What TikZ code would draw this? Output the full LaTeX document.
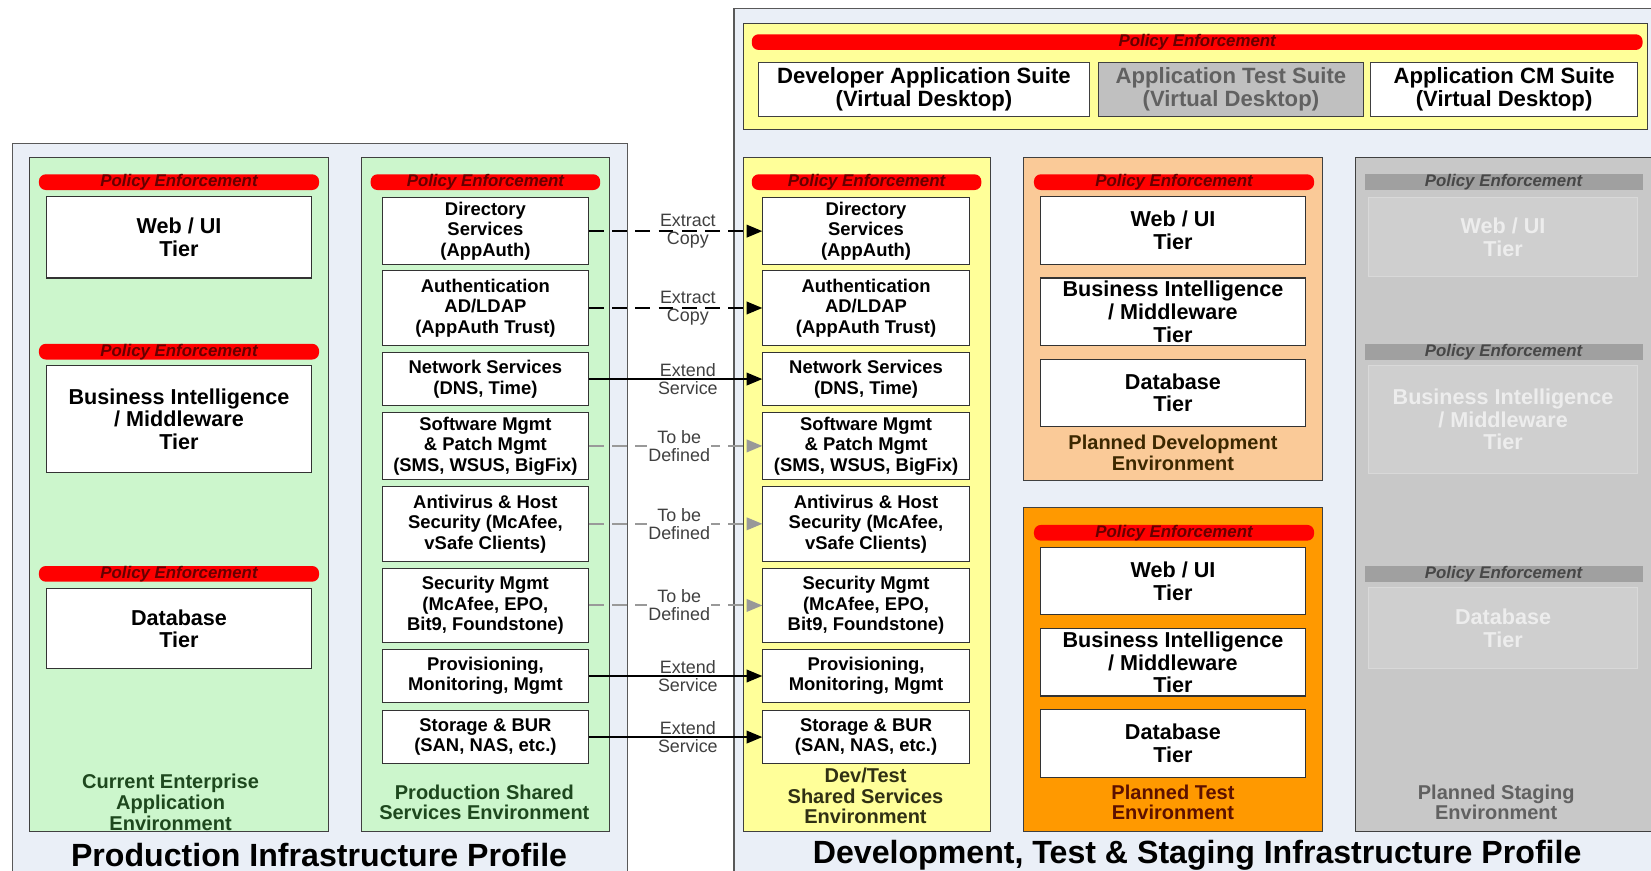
\documentclass[tikz,border=0pt]{standalone}
\usepackage{fontspec}
\setmainfont{Liberation Sans}
\usetikzlibrary{positioning,arrows.meta}

\definecolor{profilebg}{RGB}{234,239,247}
\definecolor{envgreen}{RGB}{204,246,204}
\definecolor{envyellow}{RGB}{255,255,153}
\definecolor{envpeach}{RGB}{250,202,152}
\definecolor{envorange}{RGB}{255,153,0}
\definecolor{envgrey}{RGB}{200,200,200}
\definecolor{fadegrey}{RGB}{207,207,207}
\definecolor{bargrey}{RGB}{160,160,160}
\definecolor{suitegrey}{RGB}{192,192,192}
\definecolor{greentext}{RGB}{30,72,30}
\definecolor{olivetext}{RGB}{48,48,20}
\definecolor{browntext}{RGB}{60,40,0}
\definecolor{rusttext}{RGB}{92,16,0}

\newcommand{\tierfont}{\fontsize{20.5}{21.5}\selectfont\bfseries}
\newcommand{\svcfont}{\fontsize{17.5}{19.5}\selectfont\bfseries}
\newcommand{\suitefont}{\fontsize{21}{22}\selectfont\bfseries}
\newcommand{\policyfont}{\fontsize{16}{16}\selectfont\bfseries\itshape}
\newcommand{\flowfont}{\fontsize{17}{17}\selectfont}
\newcommand{\envfont}{\fontsize{19}{19.5}\selectfont\bfseries}
\newcommand{\titlefont}{\fontsize{30.5}{32}\selectfont\bfseries}

\tikzset{
  profile/.style={draw=black!65, line width=1.2pt, fill=profilebg},
  envbox/.style={draw=black!75, line width=1pt},
  tierbox/.style={draw=black!80, line width=1pt, fill=white, align=center,
    inner sep=0pt, font=\tierfont, minimum width=252pt},
  svcbox/.style={draw=black!80, line width=1pt, fill=white, align=center,
    inner sep=0pt, font=\svcfont, minimum width=196pt},
  suitebox/.style={draw=black!75, line width=1pt, fill=white, align=center,
    inner sep=0pt, font=\suitefont, minimum height=52pt},
  fadebox/.style={draw=black!15, line width=1pt, fill=fadegrey, align=center,
    inner sep=0pt, font=\tierfont, text=white!93!black, minimum width=255pt},
  policybar/.style={fill=red, rounded corners=6.5pt, minimum height=13pt,
    inner sep=0pt, font=\policyfont, text=red!40!black},
  greybar/.style={fill=bargrey, minimum height=12pt, inner sep=0pt,
    font=\policyfont, text=black!72},
  envlabel/.style={font=\envfont, align=center},
  flowlabel/.style={font=\flowfont, align=center, text=black!75},
  extract/.style={draw, line width=1.8pt, dash pattern=on 14pt off 8pt,
    -{Triangle[length=15pt, width=12pt]}},
  extend/.style={draw, line width=1.8pt, -{Triangle[length=15pt, width=12pt]}},
  tbd/.style={draw=black!40, line width=1.8pt, dash pattern=on 14pt off 8pt,
    -{Triangle[length=15pt, width=12pt]}},
}

\begin{document}
\begin{tikzpicture}[x=1pt, y=-1pt]
  \clip (0,0) rectangle (1568,827);
  \fill[white] (0,0) rectangle (1568,827);

  %profiles
  \draw[profile] (12,136) rectangle (596,850);
  \draw[profile] (697,8) rectangle (1590,850);
  \node[font=\titlefont] (ptitle) at (303,812) {Production Infrastructure Profile};
  \node[font=\titlefont] (dtitle) at (1137,812) {Development, Test \& Staging Infrastructure Profile};

  %environments
  \draw[envbox, fill=envgreen] (28,150) rectangle (312,790);
  \draw[envbox, fill=envgreen] (343,150) rectangle (579,790);
  \draw[envbox, fill=envyellow] (706,22) rectangle (1565,123);
  \draw[envbox, fill=envyellow] (706,150) rectangle (941,790);
  \draw[envbox, fill=envpeach] (972,150) rectangle (1256,456);
  \draw[envbox, fill=envorange] (972,482) rectangle (1256,790);
  \draw[envbox, fill=envgrey] (1287,150) rectangle (1590,790);

  %virtual desktops
  \node[policybar, minimum width=846pt] (pedesk) at (1137,40) {Policy Enforcement};
  \node[suitebox, minimum width=315pt] (devsuite) at (877.5,85) {Developer Application Suite\\(Virtual Desktop)};
  \node[suitebox, minimum width=252pt, fill=suitegrey, text=black!62] (testsuite) at (1169,85) {Application Test Suite\\(Virtual Desktop)};
  \node[suitebox, minimum width=253pt] (cmsuite) at (1428.5,85) {Application CM Suite\\(Virtual Desktop)};

  %current enterprise
  \node[policybar, minimum width=266pt] (pecur1) at (170,173) {Policy Enforcement};
  \node[tierbox, minimum height=77pt] (curweb) at (170,225.5) {Web / UI\\Tier};
  \node[policybar, minimum width=266pt] (pecur2) at (170,334) {Policy Enforcement};
  \node[tierbox, minimum height=102pt] (curbi) at (170,398) {Business Intelligence\\/ Middleware\\Tier};
  \node[policybar, minimum width=266pt] (pecur3) at (170,545) {Policy Enforcement};
  \node[tierbox, minimum height=76pt] (curdb) at (170,597) {Database\\Tier};
  \node[envlabel, text=greentext] (curlbl) at (162,762) {Current Enterprise\\Application\\Environment};

  %production shared services
  \node[policybar, minimum width=218pt] (peprod) at (461,173) {Policy Enforcement};
  \node[svcbox, minimum height=63pt] (pdir) at (461,219.5) {Directory\\Services\\(AppAuth)};
  \node[svcbox, minimum height=71pt] (pauth) at (461,292.5) {Authentication\\AD/LDAP\\(AppAuth Trust)};
  \node[svcbox, minimum height=50pt] (pnet) at (461,360) {Network Services\\(DNS, Time)};
  \node[svcbox, minimum height=63pt] (psw) at (461,423.5) {Software Mgmt\\\& Patch Mgmt\\(SMS, WSUS, BigFix)};
  \node[svcbox, minimum height=71pt] (pav) at (461,497.5) {Antivirus \& Host\\Security (McAfee,\\vSafe Clients)};
  \node[svcbox, minimum height=70pt] (psec) at (461,575) {Security Mgmt\\(McAfee, EPO,\\Bit9, Foundstone)};
  \node[svcbox, minimum height=50pt] (pprov) at (461,642) {Provisioning,\\Monitoring, Mgmt};
  \node[svcbox, minimum height=50pt] (pstor) at (461,700) {Storage \& BUR\\(SAN, NAS, etc.)};
  \node[envlabel, text=greentext] (prodlbl) at (460,762) {Production Shared\\Services Environment};

  %dev/test shared services
  \node[policybar, minimum width=218pt] (pedt) at (823,173) {Policy Enforcement};
  \node[svcbox, minimum height=63pt] (ddir) at (822.5,219.5) {Directory\\Services\\(AppAuth)};
  \node[svcbox, minimum height=71pt] (dauth) at (822.5,292.5) {Authentication\\AD/LDAP\\(AppAuth Trust)};
  \node[svcbox, minimum height=50pt] (dnet) at (822.5,360) {Network Services\\(DNS, Time)};
  \node[svcbox, minimum height=63pt] (dsw) at (822.5,423.5) {Software Mgmt\\\& Patch Mgmt\\(SMS, WSUS, BigFix)};
  \node[svcbox, minimum height=71pt] (dav) at (822.5,497.5) {Antivirus \& Host\\Security (McAfee,\\vSafe Clients)};
  \node[svcbox, minimum height=70pt] (dsec) at (822.5,575) {Security Mgmt\\(McAfee, EPO,\\Bit9, Foundstone)};
  \node[svcbox, minimum height=50pt] (dprov) at (822.5,642) {Provisioning,\\Monitoring, Mgmt};
  \node[svcbox, minimum height=50pt] (dstor) at (822.5,700) {Storage \& BUR\\(SAN, NAS, etc.)};
  \node[envlabel, text=olivetext] (dtlbl) at (822,756) {Dev/Test\\Shared Services\\Environment};

  %planned development
  \node[policybar, minimum width=266pt] (pedev) at (1115,173) {Policy Enforcement};
  \node[tierbox, minimum height=64pt] (devweb) at (1114,219) {Web / UI\\Tier};
  \node[tierbox, minimum height=64pt] (devbi) at (1114,296) {Business Intelligence\\/ Middleware\\Tier};
  \node[tierbox, minimum height=64pt] (devdb) at (1114,373) {Database\\Tier};
  \node[envlabel, text=browntext] (devlbl) at (1114,430) {Planned Development\\Environment};

  %planned test
  \node[policybar, minimum width=266pt] (petest) at (1115,506) {Policy Enforcement};
  \node[tierbox, minimum height=64pt] (testweb) at (1114,552) {Web / UI\\Tier};
  \node[tierbox, minimum height=64pt] (testbi) at (1114,629) {Business Intelligence\\/ Middleware\\Tier};
  \node[tierbox, minimum height=64pt] (testdb) at (1114,706) {Database\\Tier};
  \node[envlabel, text=rusttext] (testlbl) at (1114,762) {Planned Test\\Environment};

  %planned staging
  \node[greybar, minimum width=264pt] (pestg1) at (1428,173) {Policy Enforcement};
  \node[fadebox, minimum height=75pt] (stgweb) at (1427.5,225.5) {Web / UI\\Tier};
  \node[greybar, minimum width=264pt] (pestg2) at (1428,334) {Policy Enforcement};
  \node[fadebox, minimum height=103pt] (stgbi) at (1427.5,398.5) {Business Intelligence\\/ Middleware\\Tier};
  \node[greybar, minimum width=264pt] (pestg3) at (1428,545) {Policy Enforcement};
  \node[fadebox, minimum height=77pt] (stgdb) at (1427.5,596.5) {Database\\Tier};
  \node[envlabel, text=black!62] (stglbl) at (1421,762) {Planned Staging\\Environment};

  %edges
  \path[extract] (pdir.east) -- node[flowlabel, pos=0.57] {Extract\\Copy} (ddir.west);
  \path[extract] (pauth.east) -- node[flowlabel, pos=0.57] {Extract\\Copy} (dauth.west);
  \path[extend] (pnet.east) -- node[flowlabel, pos=0.57] {Extend\\Service} (dnet.west);
  \path[tbd] (psw.east) -- node[flowlabel, pos=0.52, fill=white, inner sep=1pt] {To be\\Defined} (dsw.west);
  \path[tbd] (pav.east) -- node[flowlabel, pos=0.52, fill=white, inner sep=1pt] {To be\\Defined} (dav.west);
  \path[tbd] (psec.east) -- node[flowlabel, pos=0.52, fill=white, inner sep=1pt] {To be\\Defined} (dsec.west);
  \path[extend] (pprov.east) -- node[flowlabel, pos=0.57] {Extend\\Service} (dprov.west);
  \path[extend] (pstor.east) -- node[flowlabel, pos=0.57] {Extend\\Service} (dstor.west);
\end{tikzpicture}
\end{document}
